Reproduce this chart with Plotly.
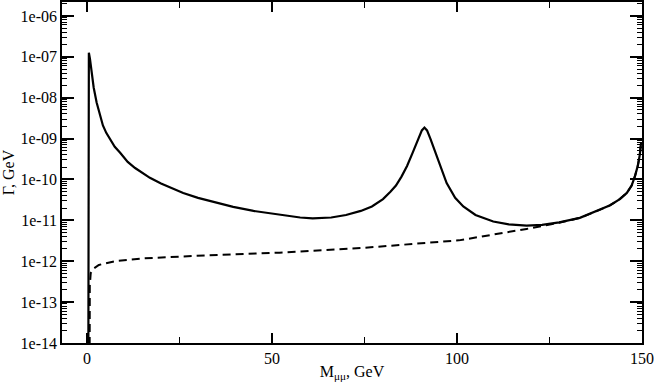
import numpy as np
import plotly.graph_objects as go

# solid curve: M (GeV), log10(Gamma/GeV)
m_solid = [0.35, 0.4, 0.5, 0.8, 1.3, 1.8, 2.6, 3.5, 4.3, 5.2, 6.2, 7.5, 8.9, 11, 13, 15, 17, 20,
           23, 26, 30, 35, 39.5, 45, 52, 57.6, 61, 66, 70, 74, 77, 80, 82, 83.5, 85, 86.5, 88,
           89.5, 90.5, 91.2, 91.9, 92.8, 94, 95.5, 97.2, 99.5, 101.7, 105, 109.8, 114, 118.8,
           123, 127.6, 133.2, 138.4, 141.4, 144, 145.9, 147.2, 148.1, 148.9, 149.4, 149.75]
lg_solid = [-15, -7.6, -6.9, -7.05, -7.48, -7.75, -8.12, -8.45, -8.68, -8.86, -9.02, -9.2,
            -9.34, -9.57, -9.72, -9.85, -9.96, -10.1, -10.22, -10.33, -10.45, -10.57, -10.67,
            -10.77, -10.86, -10.93, -10.95, -10.93, -10.87, -10.77, -10.66, -10.48, -10.3,
            -10.15, -9.93, -9.67, -9.35, -9.02, -8.8, -8.73, -8.8, -9.0, -9.3, -9.68, -10.09,
            -10.45, -10.66, -10.87, -11.03, -11.1, -11.13, -11.11, -11.05, -10.94, -10.75,
            -10.63, -10.48, -10.33, -10.15, -9.92, -9.65, -9.4, -9.1]

# dashed curve
m_dash = [0.7, 0.75, 1.0, 1.8, 3.2, 8.1, 15.3, 28.8, 52, 75, 100.5, 109.8, 118.8, 127.6, 133.2,
          138.4, 141.4, 144, 145.9, 147.2, 148.1, 148.9, 149.4, 149.75]
lg_dash = [-15, -12.6, -12.29, -12.18, -12.09, -11.99, -11.93, -11.87, -11.79, -11.67, -11.49,
           -11.35, -11.21, -11.06, -10.94, -10.75, -10.63, -10.48, -10.33, -10.15, -9.92,
           -9.65, -9.4, -9.1]

x_ticks = [0, 50, 100, 150]
x_minor = [25, 75, 125]
y_ticks = [1e-14, 1e-13, 1e-12, 1e-11, 1e-10, 1e-9, 1e-8, 1e-7, 1e-6]
y_labels = ["1e-14", "1e-13", "1e-12", "1e-11", "1e-10", "1e-09", "1e-08", "1e-07", "1e-06"]
y_minor = [k * 10.0 ** e for e in range(-14, -5) for k in range(2, 10)]

X_RANGE = [-6.76, 150]
Y_RANGE = [-14, -5.66]

fig = go.Figure()
fig.add_trace(go.Scatter(x=m_solid, y=10 ** np.array(lg_solid), mode="lines",
                         line=dict(color="black", width=2.2), showlegend=False))
fig.add_trace(go.Scatter(x=m_dash, y=10 ** np.array(lg_dash), mode="lines",
                         line=dict(color="black", width=2, dash="8px,5px"), showlegend=False))
# empty trace so the minor-tick overlay axes get drawn
fig.add_trace(go.Scatter(x=[None], y=[None], xaxis="x2", yaxis="y2", showlegend=False,
                         hoverinfo="skip"))


def tick_axis(kind, rng, vals, length, overlay):
    ax = dict(range=rng, overlaying=overlay, tickmode="array", tickvals=vals, ticks="inside",
              ticklen=length, tickwidth=1.2, tickcolor="black", showticklabels=False,
              showline=False, mirror="ticks", showgrid=False, zeroline=False, automargin=False)
    if kind == "log":
        ax["type"] = "log"
    return ax


fnt = dict(family="Liberation Serif", size=16, color="black")
fig.update_layout(
    template="none",
    width=654, height=382,
    margin=dict(l=62, r=12, t=2, b=39),
    plot_bgcolor="white", paper_bgcolor="white",
    font=fnt,
    xaxis=dict(range=X_RANGE, tickmode="array", tickvals=x_ticks, ticks="inside", ticklen=10,
               tickwidth=1.5, tickcolor="black",
               showline=True, linecolor="black", linewidth=1.5, mirror="ticks",
               showgrid=False, zeroline=False, automargin=False,
               title=dict(text="M<sub>μμ</sub>, GeV", standoff=2, font=fnt)),
    yaxis=dict(type="log", range=Y_RANGE, tickmode="array", tickvals=y_ticks, ticktext=y_labels,
               ticks="inside", ticklen=12, tickwidth=1.5, tickcolor="black",
               showline=True, linecolor="black", linewidth=1.5, mirror="ticks",
               showgrid=False, zeroline=False, automargin=False,
               title=dict(text="Γ, GeV", standoff=4, font=fnt)),
    xaxis2=tick_axis("lin", X_RANGE, x_minor, 6, "x"),
    yaxis2=tick_axis("log", Y_RANGE, y_minor, 5, "y"),
)

fig.write_html("out.html", config={"displayModeBar": False},
               post_script="document.body.style.margin='0';")
